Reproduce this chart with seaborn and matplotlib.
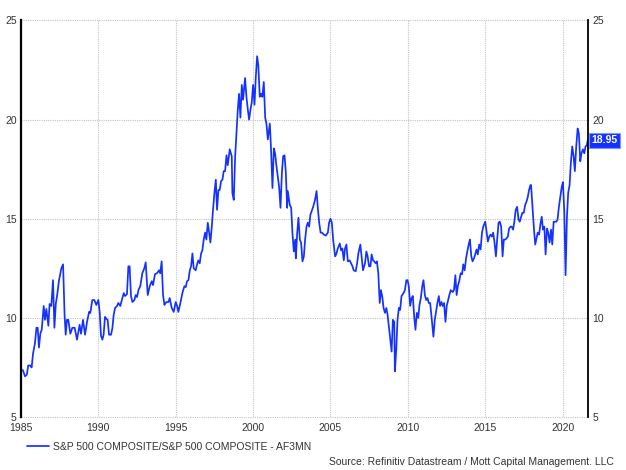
import numpy as np
import pandas as pd
import seaborn as sns
import matplotlib.pyplot as plt
import matplotlib.transforms as mtransforms

# Forward P/E of the S&P 500
years = [
    1985.00, 1985.13, 1985.26, 1985.38, 1985.47, 1985.60, 1985.69, 1985.78, 1985.90, 1986.00,
    1986.08, 1986.16, 1986.25, 1986.34, 1986.47, 1986.55, 1986.64, 1986.77, 1986.85, 1986.96,
    1987.07, 1987.16, 1987.25, 1987.33, 1987.46, 1987.61, 1987.72, 1987.82, 1987.89, 1987.97,
    1988.06, 1988.19, 1988.32, 1988.47, 1988.62, 1988.79, 1988.88, 1989.01, 1989.14, 1989.27,
    1989.40, 1989.48, 1989.61, 1989.74, 1989.87, 1990.00, 1990.09, 1990.17, 1990.26, 1990.34,
    1990.43, 1990.52, 1990.60, 1990.69, 1990.82, 1990.91, 1990.99, 1991.08, 1991.21, 1991.29,
    1991.42, 1991.55, 1991.64, 1991.72, 1991.85, 1991.94, 1992.02, 1992.11, 1992.20, 1992.33,
    1992.41, 1992.50, 1992.59, 1992.71, 1992.84, 1992.97, 1993.06, 1993.19, 1993.32, 1993.45,
    1993.53, 1993.66, 1993.79, 1993.92, 1994.00, 1994.09, 1994.18, 1994.27, 1994.40, 1994.53,
    1994.61, 1994.74, 1994.87, 1995.00, 1995.09, 1995.17, 1995.30, 1995.43, 1995.56, 1995.65,
    1995.73, 1995.82, 1995.91, 1995.99, 1996.08, 1996.16, 1996.29, 1996.38, 1996.46, 1996.55,
    1996.64, 1996.72, 1996.81, 1996.90, 1996.98, 1997.07, 1997.16, 1997.24, 1997.33, 1997.41,
    1997.50, 1997.59, 1997.67, 1997.76, 1997.84, 1997.93, 1998.02, 1998.10, 1998.19, 1998.28,
    1998.36, 1998.49, 1998.62, 1998.66, 1998.75, 1998.84, 1998.92, 1999.01, 1999.09, 1999.18,
    1999.27, 1999.35, 1999.48, 1999.57, 1999.66, 1999.74, 1999.83, 1999.91, 2000.00, 2000.09,
    2000.17, 2000.26, 2000.34, 2000.43, 2000.52, 2000.60, 2000.69, 2000.78, 2000.86, 2000.95,
    2001.08, 2001.16, 2001.25, 2001.34, 2001.42, 2001.51, 2001.68, 2001.77, 2001.86, 2001.94,
    2002.03, 2002.11, 2002.20, 2002.24, 2002.37, 2002.46, 2002.54, 2002.63, 2002.72, 2002.76,
    2002.85, 2002.93, 2003.02, 2003.10, 2003.19, 2003.28, 2003.36, 2003.45, 2003.53, 2003.62,
    2003.70, 2003.88, 2004.00, 2004.10, 2004.18, 2004.27, 2004.36, 2004.45, 2004.57, 2004.70,
    2004.83, 2004.91, 2005.00, 2005.09, 2005.17, 2005.30, 2005.39, 2005.47, 2005.60, 2005.69,
    2005.77, 2005.86, 2005.94, 2006.03, 2006.12, 2006.24, 2006.33, 2006.42, 2006.50, 2006.63,
    2006.72, 2006.80, 2006.93, 2007.01, 2007.10, 2007.23, 2007.32, 2007.40, 2007.49, 2007.58,
    2007.66, 2007.75, 2007.83, 2007.92, 2008.00, 2008.09, 2008.18, 2008.26, 2008.35, 2008.43,
    2008.52, 2008.61, 2008.69, 2008.82, 2008.95, 2009.03, 2009.12, 2009.16, 2009.25, 2009.33,
    2009.42, 2009.50, 2009.59, 2009.72, 2009.81, 2009.90, 2009.98, 2010.06, 2010.15, 2010.24,
    2010.32, 2010.41, 2010.49, 2010.58, 2010.67, 2010.75, 2010.84, 2010.93, 2011.01, 2011.10,
    2011.18, 2011.27, 2011.35, 2011.44, 2011.53, 2011.65, 2011.74, 2011.82, 2011.91, 2012.00,
    2012.08, 2012.17, 2012.25, 2012.34, 2012.43, 2012.51, 2012.60, 2012.68, 2012.77, 2012.90,
    2012.98, 2013.07, 2013.15, 2013.24, 2013.32, 2013.41, 2013.50, 2013.58, 2013.67, 2013.76,
    2013.84, 2013.93, 2014.01, 2014.10, 2014.18, 2014.27, 2014.35, 2014.44, 2014.52, 2014.61,
    2014.70, 2014.79, 2014.87, 2015.00, 2015.09, 2015.17, 2015.26, 2015.34, 2015.43, 2015.51,
    2015.60, 2015.69, 2015.77, 2015.86, 2015.94, 2016.03, 2016.12, 2016.20, 2016.29, 2016.37,
    2016.46, 2016.54, 2016.63, 2016.71, 2016.80, 2016.88, 2016.97, 2017.06, 2017.15, 2017.23,
    2017.32, 2017.40, 2017.49, 2017.58, 2017.66, 2017.75, 2017.83, 2017.92, 2017.96, 2018.05,
    2018.15, 2018.23, 2018.31, 2018.39, 2018.48, 2018.56, 2018.65, 2018.73, 2018.82, 2018.90,
    2018.99, 2019.07, 2019.16, 2019.25, 2019.33, 2019.42, 2019.50, 2019.59, 2019.67, 2019.76,
    2019.85, 2019.94, 2020.02, 2020.11, 2020.19, 2020.28, 2020.36, 2020.45, 2020.53, 2020.62,
    2020.71, 2020.79, 2020.88, 2020.97, 2021.05, 2021.14, 2021.22, 2021.31, 2021.40, 2021.48,
    2021.56, 2021.62,
]
pe = [
    7.40, 7.35, 7.05, 7.13, 7.60, 7.60, 7.50, 8.20, 8.70, 9.50,
    9.50, 8.50, 9.20, 9.40, 10.60, 9.90, 10.45, 9.60, 10.70, 10.60,
    11.90, 9.50, 10.70, 11.10, 11.90, 12.50, 12.70, 10.10, 9.15, 9.90,
    9.90, 9.20, 9.50, 9.50, 8.90, 9.65, 9.20, 9.90, 9.15, 9.80,
    10.30, 10.25, 10.90, 10.90, 10.65, 10.90, 10.25, 9.10, 8.90, 9.15,
    10.05, 9.95, 9.90, 9.15, 9.15, 9.50, 10.15, 10.50, 10.60, 10.75,
    10.60, 11.00, 11.25, 11.10, 11.20, 12.60, 12.60, 11.10, 10.80, 10.90,
    11.15, 11.05, 11.40, 11.60, 12.25, 12.50, 12.80, 11.15, 11.60, 11.85,
    11.65, 12.20, 12.25, 12.40, 12.25, 12.85, 11.15, 10.65, 10.80, 10.80,
    11.00, 10.50, 10.30, 10.80, 10.60, 10.30, 10.75, 11.25, 11.60, 11.55,
    11.85, 11.90, 12.40, 12.60, 13.25, 12.50, 12.40, 12.70, 12.90, 12.75,
    13.25, 13.40, 13.95, 14.30, 13.95, 14.80, 14.30, 13.80, 14.60, 15.45,
    16.30, 16.97, 15.45, 16.45, 16.45, 16.90, 16.97, 17.40, 17.40, 18.20,
    17.70, 18.50, 18.15, 16.30, 15.95, 18.15, 19.30, 20.50, 21.30, 20.10,
    21.75, 21.00, 22.10, 21.15, 20.50, 20.00, 20.50, 20.85, 21.75, 20.75,
    22.10, 23.20, 22.70, 21.15, 21.30, 21.15, 21.90, 20.10, 19.80, 19.00,
    19.80, 18.50, 16.55, 18.55, 18.30, 17.65, 16.60, 15.55, 17.30, 18.15,
    18.20, 17.40, 15.55, 16.40, 15.70, 15.55, 14.30, 13.35, 13.95, 13.00,
    14.30, 15.05, 13.95, 13.80, 12.85, 13.10, 13.95, 14.60, 14.80, 14.60,
    15.20, 15.60, 15.95, 16.40, 15.55, 14.80, 14.30, 14.30, 14.20, 14.15,
    14.30, 14.80, 15.00, 14.80, 13.95, 13.10, 13.25, 13.50, 13.75, 13.40,
    13.50, 12.90, 13.50, 13.70, 12.85, 12.90, 12.75, 12.60, 12.40, 12.35,
    12.75, 13.25, 13.70, 13.10, 12.40, 12.75, 13.35, 13.10, 12.60, 12.60,
    13.20, 12.90, 12.85, 12.75, 12.85, 12.25, 10.75, 11.40, 11.05, 10.50,
    10.25, 10.50, 10.15, 9.25, 8.30, 9.90, 9.80, 7.30, 8.40, 9.90,
    10.50, 10.40, 11.10, 11.25, 11.40, 11.90, 11.90, 11.60, 10.60, 11.00,
    11.10, 10.05, 9.40, 10.25, 10.00, 10.65, 11.00, 11.60, 11.90, 11.15,
    10.90, 11.00, 10.75, 10.75, 10.05, 9.05, 9.90, 10.30, 10.75, 11.10,
    10.60, 10.80, 10.60, 10.75, 9.80, 10.60, 10.90, 11.15, 11.40, 11.30,
    11.40, 12.15, 11.15, 11.65, 11.85, 12.25, 12.20, 12.70, 12.40, 13.00,
    13.35, 13.70, 13.95, 13.10, 12.85, 13.00, 13.20, 13.45, 13.20, 13.70,
    13.45, 14.30, 14.60, 14.85, 14.30, 13.85, 14.10, 14.20, 14.10, 14.30,
    13.80, 13.10, 13.95, 14.80, 14.85, 14.60, 13.10, 13.95, 13.95, 14.00,
    14.10, 14.50, 14.60, 14.60, 14.45, 14.85, 15.45, 15.60, 14.95, 14.85,
    15.10, 15.30, 15.30, 15.70, 15.85, 16.10, 16.45, 16.70, 16.70, 15.60,
    14.45, 13.70, 14.00, 14.30, 14.20, 14.70, 15.10, 14.45, 14.60, 13.20,
    14.50, 14.30, 13.80, 14.45, 13.70, 14.85, 14.85, 14.85, 14.95, 15.60,
    16.10, 16.60, 16.85, 15.30, 12.15, 15.10, 16.30, 16.70, 17.80, 18.65,
    18.15, 17.40, 18.65, 19.55, 19.30, 17.90, 18.30, 18.50, 18.30, 18.65,
    18.70, 18.95,
]
x_ticks = [1985, 1990, 1995, 2000, 2005, 2010, 2015, 2020]
y_ticks = [5, 10, 15, 20, 25]
series_name = "S&P 500 COMPOSITE/S&P 500 COMPOSITE - AF3MN"
source_text = "Source: Refinitiv Datastream / Mott Capital Management. LLC"
last_label = "18.95"

line_color = "#1432ff"
text_color = "#333333"

sns.set_style("white")
plt.rcParams["font.family"] = ["Liberation Sans", "DejaVu Sans"]

fig = plt.figure(figsize=(6.26, 4.70), dpi=100)
ax = fig.add_axes([0.0335, 0.1128, 0.9058, 0.8436])

df = pd.DataFrame({"year": years, "pe": pe})
sns.lineplot(data=df, x="year", y="pe", ax=ax, color=line_color,
             linewidth=1.25, estimator=None, sort=False, label=series_name)

ax.set_xlim(1985, 2021.64)
ax.set_ylim(5, 25)
ax.set_xticks(x_ticks)
ax.set_yticks(y_ticks)
ax.set_xlabel("")
ax.set_ylabel("")

# dotted grid, black side spines only
ax.grid(True, linestyle=(0, (1, 1)), color="#c4c4c4", linewidth=0.8)
for gl in ax.get_ygridlines():
    gl.set_clip_on(False)
ax.spines["top"].set_visible(False)
ax.spines["bottom"].set_visible(False)
ax.spines["left"].set_color("black")
ax.spines["left"].set_linewidth(1.6)
ax.spines["right"].set_visible(True)
ax.spines["right"].set_color("black")
ax.spines["right"].set_linewidth(1.3)

ax.tick_params(axis="y", which="both", length=0, pad=3, labelsize=7.5,
               labelcolor=text_color, labelleft=True, labelright=True)
ax.tick_params(axis="x", length=0, pad=4.5, labelsize=7.5, labelcolor=text_color)

# last value tag on the right axis
trans = mtransforms.blended_transform_factory(ax.transAxes, ax.transData)
ax.text(1.006, pe[-1], last_label, transform=trans, ha="left", va="center",
        color="white", fontsize=7.5, fontweight="bold",
        bbox=dict(boxstyle="square,pad=0.2", fc=line_color, ec="#7d95ff", lw=0.8))

# legend below the plot
handles, labels = ax.get_legend_handles_labels()
ax.get_legend().remove()
fig.legend(handles, labels, loc="center left", bbox_to_anchor=(0.043, 0.049),
           frameon=False, fontsize=7.5, labelcolor=text_color,
           handlelength=2.1, handletextpad=0.45, borderpad=0, borderaxespad=0)

fig.text(0.980, 0.017, source_text, ha="right", va="center",
         fontsize=7.5, color=text_color)

fig.savefig("out.png", dpi=100)
